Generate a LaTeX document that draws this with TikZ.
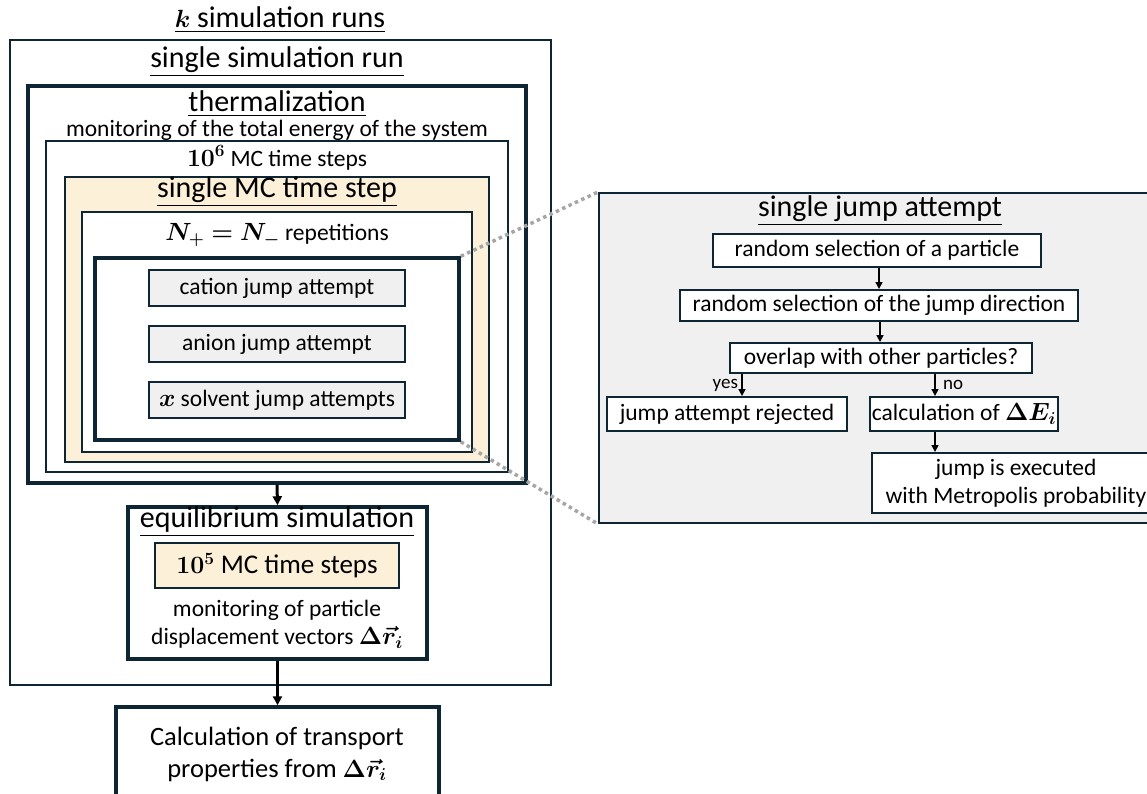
\documentclass[tikz,border=0pt]{standalone}
\usepackage{amsmath,bm}
\usepackage{fontspec}
\setmainfont{Carlito}
\usetikzlibrary{arrows.meta,positioning}
\definecolor{navy}{RGB}{14,38,52}
\definecolor{beige}{RGB}{252,240,216}
\definecolor{boxgray}{RGB}{240,240,240}
\definecolor{dotgray}{RGB}{166,166,166}

\tikzset{
  frame/.style={draw=navy, line width=2pt, inner sep=0pt},
  heavy/.style={draw=navy, line width=3.5pt, inner sep=0pt},
  heading/.style={font=\fontsize{30}{34}\selectfont},
  body/.style={font=\fontsize{23.5}{28}\selectfont},
  attempt/.style={frame, fill=boxgray, minimum width=256pt, minimum height=36pt, body},
  flow/.style={frame, fill=white, body},
  arr/.style={-{Triangle[length=9pt,width=9pt]}, line width=3pt, black},
  smallarr/.style={-{Triangle[length=7pt,width=7pt]}, line width=1.5pt, black},
  zoomline/.style={dotgray, line width=3.5pt, dash pattern=on 3.5pt off 3.5pt}
}

\begin{document}
\begin{tikzpicture}[x=1pt,y=-1pt]
\useasboundingbox (0,0) rectangle (1147,793);

% nested loops on the left
\node[frame, minimum width=541pt, minimum height=645pt] (runs) at (280.5,362.5) {};
\node[heading] (runstitle) at (280,20) {\underline{$\boldsymbol{k}$ simulation runs}};
\node[heading] (runtitle) at (277,62) {\underline{single simulation run}};

\node[heavy, minimum width=498pt, minimum height=397pt] (therm) at (277,284.5) {};
\node[heading] (thermtitle) at (277,104) {\underline{thermalization}};
\node[body] (energy) at (277,130) {monitoring of the total energy of the system};

\node[frame, minimum width=462pt, minimum height=331pt] (steps) at (277,306.5) {};
\node[body] (stepstitle) at (277,158) {$\boldsymbol{10^{6}}$ MC time steps};

\node[frame, fill=beige, minimum width=424pt, minimum height=285pt] (mcstep) at (277,319.5) {};
\node[heading] (mcsteptitle) at (277,192) {\underline{single MC time step}};

\node[frame, fill=white, minimum width=390pt, minimum height=240pt] (reps) at (277,332) {};
\node[body] (repstitle) at (277,235) {$\boldsymbol{N_{+}=N_{-}}$ repetitions};

\node[heavy, fill=white, minimum width=364pt, minimum height=182pt] (inner) at (277,349) {};
\node[attempt] (cation) at (277,288) {cation jump attempt};
\node[attempt] (anion) at (277,344) {anion jump attempt};
\node[attempt] (solvent) at (277,400) {$\boldsymbol{x}$ solvent jump attempts};

% equilibrium part
\node[heavy, fill=white, minimum width=299pt, minimum height=152pt] (equil) at (277.5,583) {};
\node[heading] (equiltitle) at (277,522) {\underline{equilibrium simulation}};
\node[frame, fill=beige, minimum width=244pt, minimum height=45pt,
      font=\fontsize{27}{30}\selectfont] (prod) at (277,565.5) {$\boldsymbol{10^{5}}$ MC time steps};
\node[body, align=center] (displ) at (277,624)
  {monitoring of particle\\displacement vectors $\boldsymbol{\Delta\vec{r}_{i}}$};

\node[heavy, fill=white, minimum width=323pt, minimum height=103pt] (calc) at (277.5,758.5) {};
\node[font=\fontsize{26.5}{32}\selectfont, align=center] (calctext) at (277,754)
  {Calculation of transport\\properties from $\boldsymbol{\Delta\vec{r}_{i}}$};

\draw[arr] (therm.south) -- (equil.north);
\draw[arr] (equil.south) -- (calc.north);

% single jump attempt
\node[frame, fill=boxgray, minimum width=561pt, minimum height=330pt] (jump) at (879.5,358) {};
\node[heading] (jumptitle) at (880,211) {\underline{single jump attempt}};
\node[flow, minimum width=328pt, minimum height=33pt] (particle) at (877,250) {random selection of a particle};
\node[flow, minimum width=398pt, minimum height=31pt] (direction) at (879,305.5) {random selection of the jump direction};
\node[flow, minimum width=302pt, minimum height=30pt] (overlap) at (881,358) {overlap with other particles?};
\node[flow, minimum width=240pt, minimum height=34pt] (rejected) at (727,414) {jump attempt rejected};
\node[flow, minimum width=188pt, minimum height=34pt] (energyi) at (964,414) {calculation of $\boldsymbol{\Delta E_{i}}$};
\node[flow, minimum width=288pt, minimum height=60pt, align=center] (metro) at (1016,483)
  {jump is executed\\with Metropolis probability};

\coordinate (yesx) at (742,0);
\coordinate (nox) at (935,0);
\draw[smallarr] (particle.south -| 879,0) -- (direction.north -| 879,0);
\draw[smallarr] (direction.south -| 880,0) -- (overlap.north -| 880,0);
\draw[smallarr] (overlap.south -| yesx) -- (rejected.north -| yesx)
  node[midway, left, font=\fontsize{19}{22}\selectfont] {yes};
\draw[smallarr] (overlap.south -| nox) -- (energyi.north -| nox)
  node[midway, right, xshift=4pt, font=\fontsize{19}{22}\selectfont] {no};
\draw[smallarr] (energyi.south -| nox) -- (metro.north -| nox);

% zoom lines
\draw[zoomline] (inner.north east) -- (jump.north west);
\draw[zoomline] (inner.south east) -- (jump.south west);
\end{tikzpicture}
\end{document}
